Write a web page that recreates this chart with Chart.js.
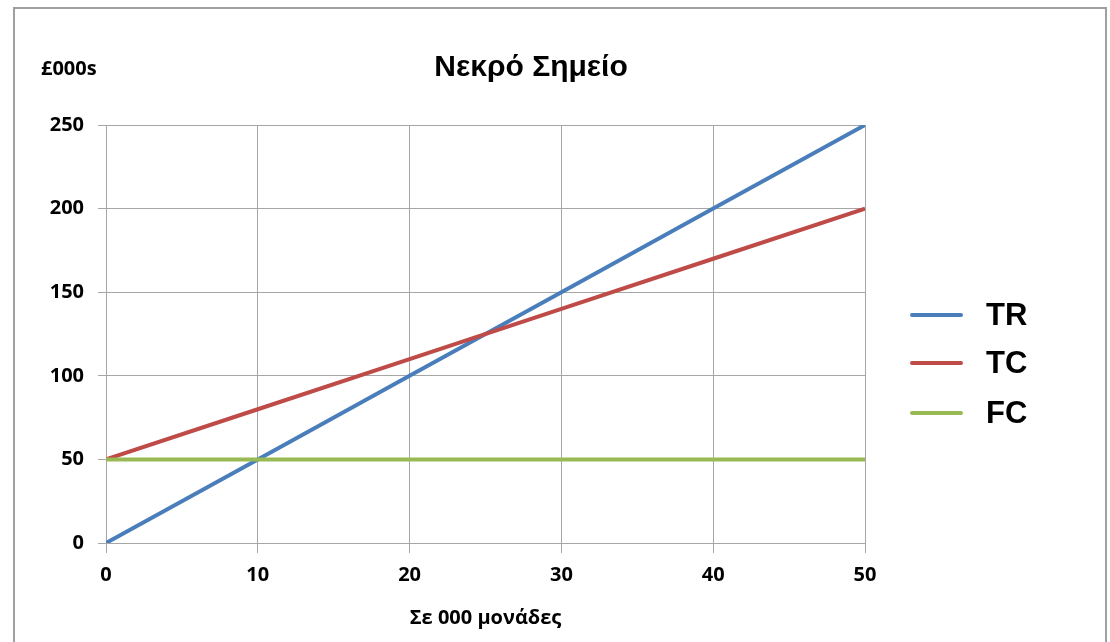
<!DOCTYPE html>
<html>
<head>
<meta charset="utf-8">
<script src="https://cdn.jsdelivr.net/npm/chart.js@4"></script>
<style>
  html, body { margin: 0; padding: 0; background: #fff; overflow: hidden; }
  #frame { position: absolute; left: 13px; top: 7px; width: 1090px; height: 700px; border: 2px solid #a0a0a0; }
  #c { position: absolute; left: 0; top: 0; }
</style>
</head>
<body>
<div id="frame"></div>
<canvas id="c" width="1110" height="642"></canvas>
<script>
// output in thousands of units
var units = [0, 10, 20, 30, 40, 50];
// £000s
var totalRevenue = [0, 50, 100, 150, 200, 250];
var totalCost = [50, 80, 110, 140, 170, 200];
var fixedCost = [50, 50, 50, 50, 50, 50];

var labels = ['TR', 'TC', 'FC'];
var colors = ['#4a7ebb', '#be4b48', '#98b954'];

function pts(ys) {
  return units.map(function (u, i) { return { x: u, y: ys[i] }; });
}

var numFont = { family: '"Open Sans", sans-serif', size: 20, weight: 'bold' };

// title, y unit label and legend drawn next to the plot
var extras = {
  id: 'extras',
  afterDraw: function (chart) {
    var ctx = chart.ctx;
    ctx.save();
    ctx.fillStyle = '#000';
    ctx.textBaseline = 'middle';

    ctx.font = 'bold 30px "Liberation Sans", Arial, sans-serif';
    ctx.textAlign = 'center';
    ctx.fillText('Νεκρό Σημείο', 531, 68);

    ctx.font = 'bold 20px "Open Sans", sans-serif';
    ctx.textAlign = 'left';
    ctx.fillText('£000s', 41, 69);

    var ys = [315, 363, 413];
    ctx.font = 'bold 31px "Liberation Sans", Arial, sans-serif';
    chart.data.datasets.forEach(function (ds, i) {
      ctx.strokeStyle = ds.borderColor;
      ctx.lineWidth = 4;
      ctx.lineCap = 'round';
      ctx.beginPath();
      ctx.moveTo(912, ys[i]);
      ctx.lineTo(961, ys[i]);
      ctx.stroke();
      ctx.fillText(ds.label, 986, ys[i] + 1);
    });
    ctx.restore();
  }
};

new Chart(document.getElementById('c'), {
  type: 'scatter',
  data: {
    datasets: [
      { label: labels[0], data: pts(totalRevenue), borderColor: colors[0], order: 3 },
      { label: labels[1], data: pts(totalCost), borderColor: colors[1], order: 2 },
      { label: labels[2], data: pts(fixedCost), borderColor: colors[2], order: 1 }
    ].map(function (d) {
      d.showLine = true;
      d.borderWidth = 4;
      d.pointRadius = 0;
      d.backgroundColor = d.borderColor;
      return d;
    })
  },
  options: {
    responsive: false,
    animation: false,
    devicePixelRatio: 1,
    layout: { padding: { left: 0, top: 125, right: 245, bottom: 0 } },
    plugins: { legend: { display: false }, tooltip: { enabled: false } },
    scales: {
      x: {
        type: 'linear',
        min: 0, max: 50,
        afterFit: function (s) { s.height = 99; },
        ticks: { stepSize: 10, color: '#000', font: numFont, padding: 10 },
        grid: { color: '#a6a6a6', tickLength: 10, lineWidth: 1 },
        border: { color: '#a6a6a6' },
        title: {
          display: true,
          text: 'Σε 000 μονάδες',
          color: '#000',
          font: { family: '"Open Sans", sans-serif', size: 20, weight: 'bold' },
          padding: { top: 0, bottom: 12 }
        }
      },
      y: {
        min: 0, max: 250,
        afterFit: function (s) { s.width = 106; },
        ticks: { stepSize: 50, color: '#000', font: numFont, padding: 14 },
        grid: { color: '#a6a6a6', tickLength: 8, lineWidth: 1 },
        border: { color: '#a6a6a6' }
      }
    }
  },
  plugins: [extras]
});
</script>
</body>
</html>
